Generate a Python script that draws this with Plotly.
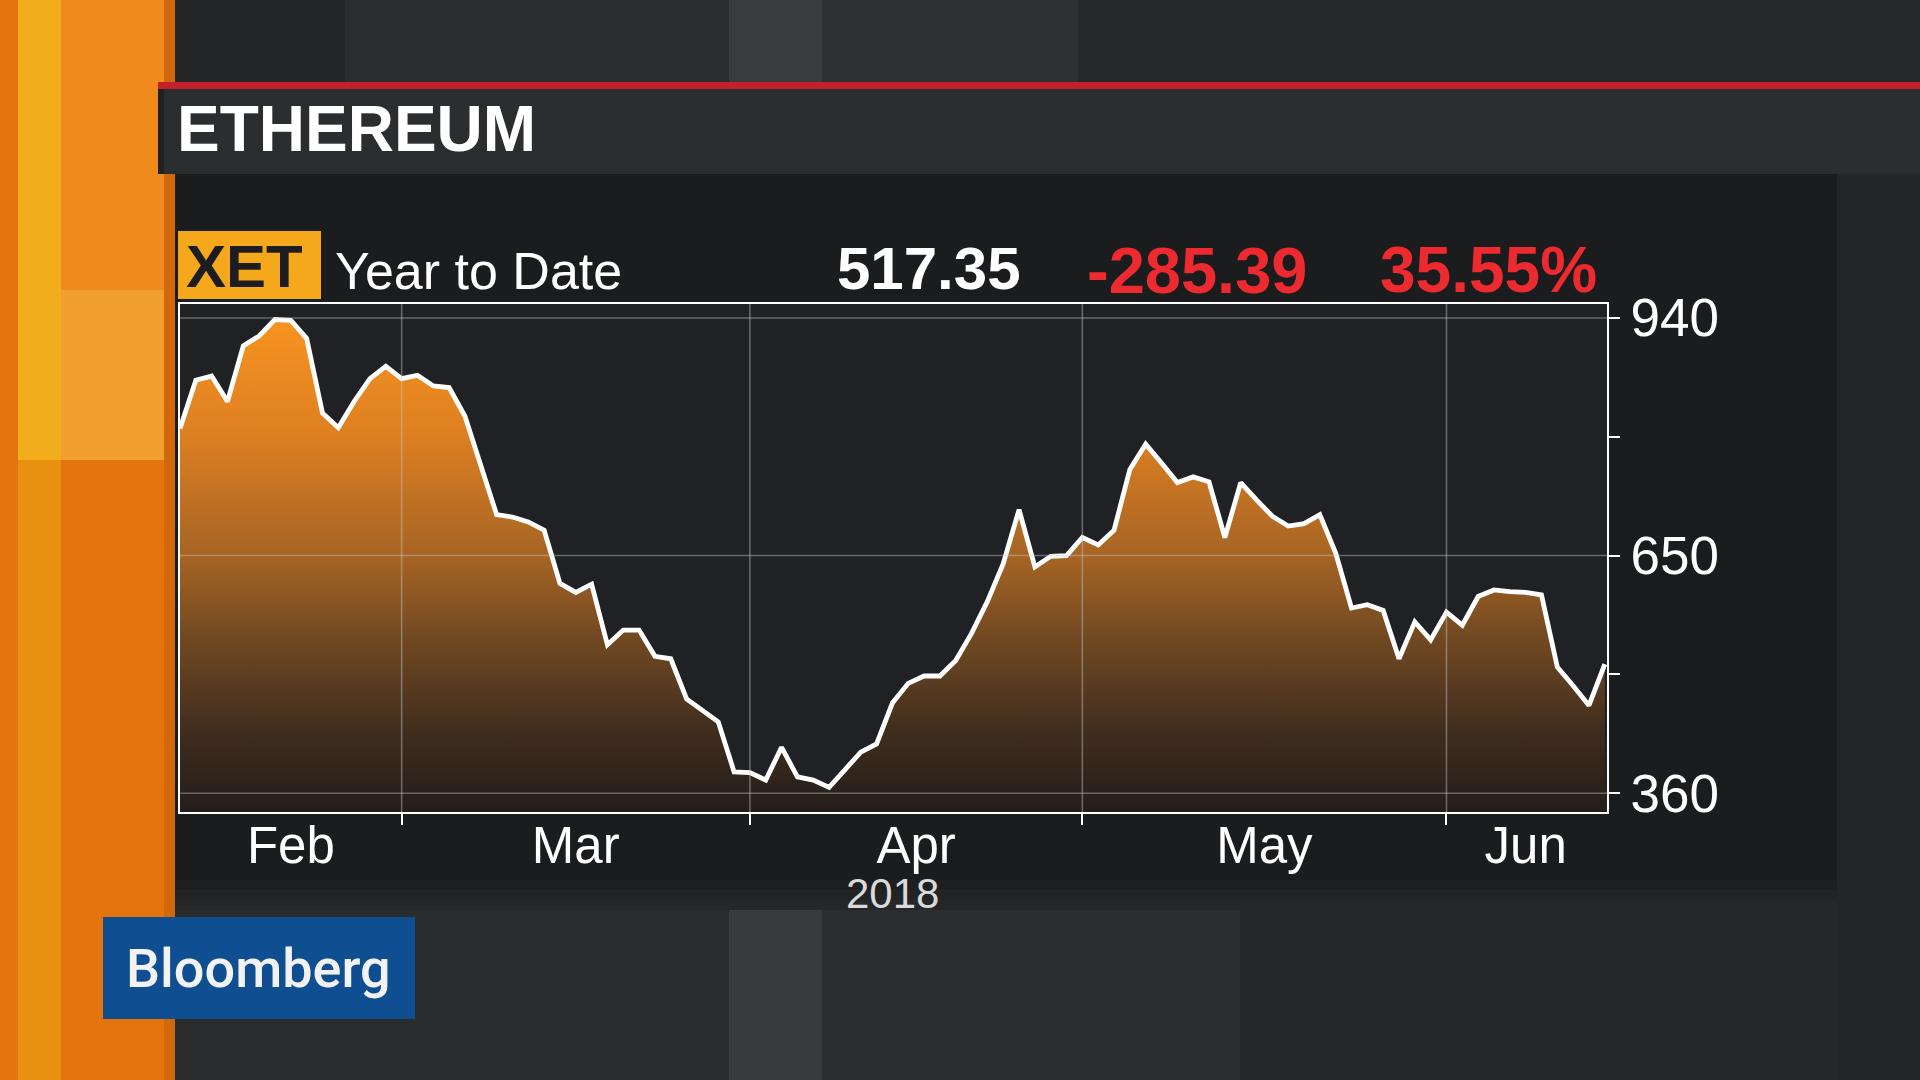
import plotly.graph_objects as go
import pandas as pd

# ---------------- data ----------------
dates = pd.bdate_range("2018-02-09", "2018-06-15")
prices = [
    805, 864, 869, 838, 906, 918, 938, 937, 915, 824,
    806, 838, 866, 881, 866, 870, 857, 855, 820, 762,
    700, 697, 691, 681, 616, 605, 615, 541, 559, 559,
    527, 524, 475, 461, 447, 386, 385, 376, 416, 380,
    376, 367, 388, 410, 420, 470, 494, 503, 503, 522,
    555, 594, 640, 706, 636, 649, 650, 672, 663, 681,
    755, 786, 763, 739, 746, 740, 672, 739, 718, 698,
    686, 689, 700, 653, 586, 590, 583, 524, 569, 547,
    581, 565, 600, 608, 606, 605, 602, 514, 491, 467,
    517.35,
]
# first trading day of each month (month boundaries on the weekday axis)
month_starts = ["2018-03-01", "2018-04-02", "2018-05-01", "2018-06-01"]
month_label_pos = ["2018-02-20", "2018-03-16", "2018-04-16 12:00", "2018-05-16 12:00", "2018-06-08"]
month_labels = ["Feb", "Mar", "Apr", "May", "Jun"]
y_major = [360, 650, 940]
y_minor = [505, 795]
title_text = "ETHEREUM"
ticker = "XET"
period_text = "Year to Date"
last_text = "517.35"
change_text = "-285.39"
pct_text = "35.55%"
year_text = "2018"
brand_text = "Bloomberg"

# ---------------- geometry helpers ----------------
W, H = 1920, 1080
PL, PR, PT, PB = 180, 1607, 304, 812


def fx(px):
    return (px - PL) / (PR - PL)


def fy(py):
    return (PB - py) / (PB - PT)


def rect(x0, y0, x1, y1, color, layer="below"):
    return dict(type="rect", xref="paper", yref="paper",
                x0=fx(x0), x1=fx(x1), y0=fy(y1), y1=fy(y0),
                fillcolor=color, line=dict(width=0), layer=layer)


FONT = "Liberation Sans, Arial, sans-serif"
RED = "#ec2a2f"

fig = go.Figure()
fig.add_trace(go.Scatter(
    x=dates, y=prices, mode="lines",
    line=dict(color="#ffffff", width=4.8),
    fill="tozeroy",
    fillgradient=dict(
        type="vertical", start=337, stop=957,
        colorscale=[
            [0.0, "rgb(36,29,26)"],
            [0.15, "rgb(62,44,30)"],
            [0.35, "rgb(115,74,34)"],
            [0.5, "rgb(165,100,36)"],
            [0.75, "rgb(222,128,34)"],
            [1.0, "rgb(250,150,32)"],
        ],
    ),
    hoverinfo="skip", showlegend=False,
))

shapes = [
    # top area stripes
    rect(174, 0, 345, 82, "#242526"),
    rect(345, 0, 729, 82, "#2c2d2e"),
    rect(729, 0, 822, 82, "#3a3b3c"),
    rect(822, 0, 1078, 82, "#2f3031"),
    rect(1078, 0, 1920, 82, "#272829"),
    # bottom area
    rect(174, 900, 729, 1080, "#2a2b2c"),
    rect(729, 900, 822, 1080, "#393a3b"),
    rect(822, 900, 1240, 1080, "#2c2d2e"),
    rect(1240, 900, 1837, 1080, "#262728"),
    # right of panel
    rect(1837, 174, 1920, 1080, "#242526"),
    # chart panel with soft lower edge
    rect(174, 174, 1837, 880, "#1b1c1e"),
    rect(174, 880, 1837, 890, "#1e1f21"),
    rect(174, 890, 1837, 900, "#222324"),
    rect(174, 900, 1837, 910, "#262728"),
    # orange strip
    rect(0, 0, 175, 1080, "#e3740e"),
    rect(61, 0, 175, 290, "#ef8a1c"),
    rect(61, 290, 175, 460, "#efa02e"),
    rect(18, 0, 61, 460, "#f2ad1c"),
    rect(18, 460, 61, 1080, "#e8900f"),
    rect(164, 0, 175, 1080, "#d2680c"),
    # red rule + title band
    rect(158, 82, 1920, 89, "#c3202b"),
    rect(158, 89, 1920, 174, "#2b2d2f"),
    rect(158, 89, 164, 174, "#202122"),
    # plot area background
    rect(PL, PT, PR, PB, "#1f2124"),
    # ticker box
    rect(178, 231, 321, 299, "#f5a81c"),
    # brand box
    rect(103, 917, 415, 1019, "#0f4f91"),
]

# grid lines drawn over the fill
for v in y_major:
    shapes.append(dict(type="line", xref="paper", yref="y", x0=0, x1=1, y0=v, y1=v,
                       line=dict(color="rgba(200,200,200,0.42)", width=1.5), layer="above"))
for d in month_starts:
    shapes.append(dict(type="line", xref="x", yref="paper", x0=d, x1=d, y0=0, y1=1,
                       line=dict(color="rgba(200,200,200,0.45)", width=1.5), layer="above"))

annotations = [
    dict(text=title_text, x=fx(175), y=fy(129), xanchor="left", yanchor="middle",
         font=dict(family=FONT, size=64, color="#ffffff", weight="bold")),
    dict(text=ticker, x=fx(184), y=fy(267), xanchor="left", yanchor="middle",
         font=dict(family=FONT, size=60, color="#1d1d1f", weight="bold")),
    dict(text=period_text, x=fx(333), y=fy(271), xanchor="left", yanchor="middle",
         font=dict(family=FONT, size=52, color="#ffffff")),
    dict(text=last_text, x=fx(835), y=fy(268.5), xanchor="left", yanchor="middle",
         font=dict(family=FONT, size=60, color="#ffffff", weight="bold")),
    dict(text=change_text, x=fx(1085), y=fy(270.5), xanchor="left", yanchor="middle",
         font=dict(family=FONT, size=65, color=RED, weight="bold")),
    dict(text=pct_text, x=fx(1378), y=fy(270.5), xanchor="left", yanchor="middle",
         font=dict(family=FONT, size=64, color=RED, weight="bold")),
    dict(text=year_text, x="2018-04-13", xref="x", y=fy(893), xanchor="center", yanchor="middle",
         font=dict(family=FONT, size=42, color="#dadada")),
    dict(text=brand_text, x=fx(124), y=fy(968), xanchor="left", yanchor="middle",
         font=dict(family="Roboto, Liberation Sans, sans-serif", size=54, color="#f2f2f2", weight=500)),
]
for a in annotations:
    a.setdefault("xref", "paper")
    a.setdefault("yref", "paper")
    a["showarrow"] = False

fig.update_layout(
    width=W, height=H, autosize=False,
    margin=dict(l=PL, r=W - PR, t=PT, b=H - PB, pad=0),
    paper_bgcolor="#2a2b2c",
    plot_bgcolor="#1f2124",
    shapes=shapes,
    annotations=annotations,
    showlegend=False,
    hovermode=False,
    xaxis=dict(
        type="date",
        range=["2018-02-09 00:00", "2018-06-15 03:20"],
        rangebreaks=[dict(pattern="day of week", bounds=[6, 1])],
        tickmode="array", tickvals=month_label_pos, ticktext=month_labels,
        ticks="", showgrid=False, zeroline=False,
        tickfont=dict(family=FONT, size=51, color="#ffffff"),
        ticklabelstandoff=-12,
        minor=dict(tickmode="array", tickvals=month_starts, ticks="outside",
                   ticklen=11, tickwidth=2, tickcolor="#ffffff", showgrid=False),
        showline=True, mirror=True, linecolor="#ffffff", linewidth=2,
        fixedrange=True,
    ),
    yaxis=dict(
        side="right",
        range=[337, 957],
        tickmode="array", tickvals=y_major, ticktext=[str(v) for v in y_major],
        ticks="outside", ticklen=11, tickwidth=2, tickcolor="#ffffff",
        minor=dict(tickmode="array", tickvals=y_minor, ticks="outside",
                   ticklen=11, tickwidth=2, tickcolor="#ffffff", showgrid=False),
        showgrid=False, zeroline=False,
        tickfont=dict(family=FONT, size=53, color="#ffffff"),
        ticklabelstandoff=0,
        showline=True, mirror=True, linecolor="#ffffff", linewidth=2,
        fixedrange=True,
    ),
)

fig.write_html(
    "out.html",
    config=dict(displayModeBar=False, staticPlot=True),
    post_script="document.body.style.margin='0';document.body.style.overflow='hidden';",
)
